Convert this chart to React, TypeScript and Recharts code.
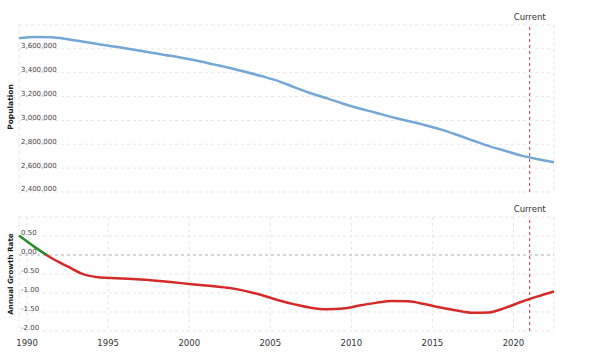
import {
  CartesianGrid,
  Line,
  LineChart,
  ReferenceLine,
  XAxis,
  YAxis,
} from "recharts";

const years = [
  1990, 1991, 1992, 1993, 1994, 1995, 1996, 1997, 1998, 1999, 2000, 2001,
  2002, 2003, 2004, 2005, 2006, 2007, 2008, 2009, 2010, 2011, 2012, 2013,
  2014, 2015, 2016, 2017, 2018, 2019, 2020, 2021, 2022, 2023,
];

// population, millions
const population = [
  3.69, 3.7, 3.697, 3.681, 3.66, 3.637, 3.617, 3.595, 3.572, 3.549, 3.526,
  3.5, 3.47, 3.44, 3.406, 3.37, 3.33, 3.277, 3.228, 3.185, 3.14, 3.1,
  3.065, 3.028, 2.995, 2.962, 2.925, 2.88, 2.832, 2.785, 2.745, 2.705, 2.675,
  2.65,
];

// annual growth rate, %
const growth = [
  0.51, 0.2, -0.08, -0.3, -0.51, -0.59, -0.61, -0.63, -0.66, -0.7, -0.74,
  -0.78, -0.82, -0.87, -0.95, -1.06, -1.19, -1.3, -1.39, -1.43, -1.41, -1.33,
  -1.26, -1.21, -1.22, -1.29, -1.38, -1.46, -1.52, -1.51, -1.39, -1.23, -1.09,
  -0.96,
];

const xTicks = [1990, 1995, 2000, 2005, 2010, 2015, 2020];
const popTicks = [2400000, 2600000, 2800000, 3000000, 3200000, 3400000, 3600000];
const growthTicks = [-2, -1.5, -1, -0.5, 0, 0.5];
const currentYear = 2021;

// each annual value sits half a year left of its label
const rows = years.map((y, i) => ({
  t: y - 0.5,
  pop: Math.round(population[i] * 1000000),
  rate: growth[i],
}));

const xDomain = [1989.5, 2022.5];
const font = "'DejaVu Sans', Verdana, sans-serif";

const gMax = Math.max(...growth);
const gMin = Math.min(...growth);
const zeroOffset = gMax / (gMax - gMin);

function YTick(props: any) {
  const { x, y, payload, fmt } = props;
  return (
    <text
      x={x}
      y={y - 3}
      dy="0.35em"
      textAnchor="start"
      fontSize={7}
      fontFamily={font}
      fill="#444"
    >
      {fmt(payload.value)}
    </text>
  );
}

const fmtPop = (v: number) => v.toLocaleString("en-US");
const fmtRate = (v: number) => v.toFixed(2);

const gridProps = {
  stroke: "#e6e6e6",
  strokeDasharray: "3 3",
};

const currentLabel = {
  value: "Current",
  position: "top" as const,
  fontSize: 8.5,
  fontFamily: font,
  fill: "#333",
  offset: 5,
};

export default function App() {
  return (
    <div
      style={{
        position: "absolute",
        left: 0,
        top: 0,
        width: 602,
        height: 353,
        background: "#fff",
        fontFamily: font,
      }}
    >
      <div
        style={{
          position: "absolute",
          left: 10,
          top: 107,
          transform: "translate(-50%, -50%) rotate(-90deg)",
          fontSize: 7.5,
          fontWeight: "bold",
          color: "#222",
          whiteSpace: "nowrap",
        }}
      >
        Population
      </div>
      <div
        style={{
          position: "absolute",
          left: 10,
          top: 274,
          transform: "translate(-50%, -50%) rotate(-90deg)",
          fontSize: 7.2,
          fontWeight: "bold",
          color: "#222",
          whiteSpace: "nowrap",
        }}
      >
        Annual Growth Rate
      </div>

      <div style={{ position: "absolute", left: 0, top: 0 }}>
        <LineChart
          width={602}
          height={195}
          data={rows}
          margin={{ top: 25, right: 48, bottom: 3, left: 19 }}
        >
          <CartesianGrid {...gridProps} />
          <XAxis
            dataKey="t"
            type="number"
            domain={xDomain}
            ticks={xTicks}
            interval={0}
            height={0}
            tick={false}
            tickLine={false}
            axisLine={false}
          />
          <YAxis
            mirror
            domain={[2400000, 3800000]}
            ticks={popTicks}
            interval={0}
            tickLine={false}
            axisLine={false}
            tickSize={0}
            tickMargin={2}
            tick={<YTick fmt={fmtPop} />}
          />
          <ReferenceLine
            x={currentYear}
            stroke="#b5403f"
            strokeDasharray="3 3"
            label={currentLabel}
          />
          <Line
            type="monotone"
            dataKey="pop"
            stroke="#72a7d6"
            strokeWidth={2.5}
            dot={false}
            isAnimationActive={false}
          />
        </LineChart>
      </div>

      <div style={{ position: "absolute", left: 0, top: 195 }}>
        <LineChart
          width={602}
          height={158}
          data={rows}
          margin={{ top: 22, right: 48, bottom: 0, left: 19 }}
        >
          <defs>
            <linearGradient id="rateStroke" x1="0" y1="0" x2="0" y2="1">
              <stop offset={0} stopColor="#2b8a2b" />
              <stop offset={zeroOffset} stopColor="#2b8a2b" />
              <stop offset={zeroOffset} stopColor="#d42a2a" />
              <stop offset={1} stopColor="#d42a2a" />
            </linearGradient>
          </defs>
          <CartesianGrid {...gridProps} />
          <XAxis
            dataKey="t"
            type="number"
            domain={xDomain}
            ticks={xTicks}
            interval={0}
            height={22}
            tickLine={false}
            axisLine={false}
            tickSize={6}
            tickMargin={3}
            tick={{ fontSize: 8.5, fontFamily: font, fill: "#333" }}
          />
          <YAxis
            mirror
            domain={[-2, 1]}
            ticks={growthTicks}
            interval={0}
            tickLine={false}
            axisLine={false}
            tickSize={0}
            tickMargin={2}
            tick={<YTick fmt={fmtRate} />}
          />
          <ReferenceLine y={0} stroke="#bbb" strokeDasharray="3 3" />
          <ReferenceLine
            x={currentYear}
            stroke="#b5403f"
            strokeDasharray="3 3"
            label={currentLabel}
          />
          <Line
            type="monotone"
            dataKey="rate"
            stroke="url(#rateStroke)"
            strokeWidth={2.5}
            dot={false}
            isAnimationActive={false}
          />
        </LineChart>
      </div>
    </div>
  );
}
